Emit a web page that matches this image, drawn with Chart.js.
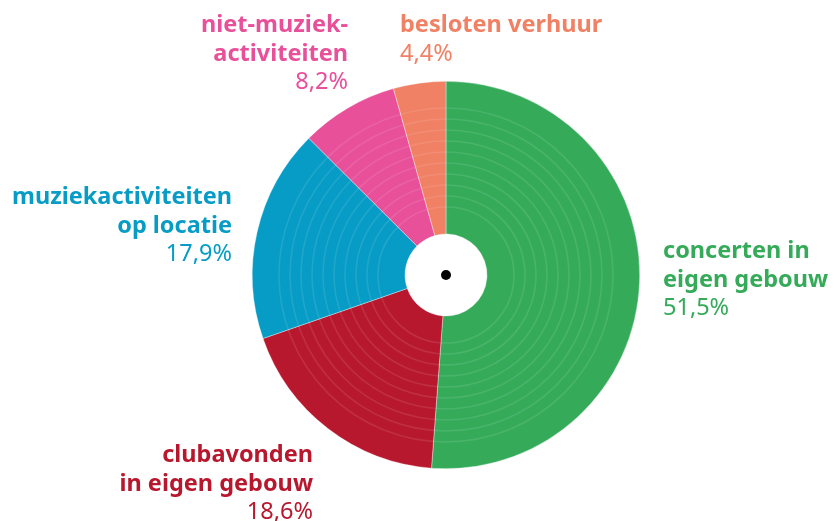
<!DOCTYPE html>
<html>
<head>
<meta charset="utf-8">
<script src="https://cdn.jsdelivr.net/npm/chart.js@4"></script>
<style>
html,body{margin:0;padding:0;background:#fff;}
#wrap{width:834px;height:521px;position:relative;}
</style>
</head>
<body>
<div id="wrap"><canvas id="c" width="834" height="521"></canvas></div>
<script>
const categories = [
  ["concerten in", "eigen gebouw"],
  ["clubavonden", "in eigen gebouw"],
  ["muziekactiviteiten", "op locatie"],
  ["niet-muziek-", "activiteiten"],
  ["besloten verhuur"]
];
const values = [51.5, 18.6, 17.9, 8.2, 4.4];
const colors = ["#35ab5a", "#b8182e", "#079cc5", "#e8509a", "#f08165"];

// label anchors relative to the centre of the record (style/layout only)
const labelLayout = [
  {dx: 217, dy: -17, align: "left"},
  {dx: -133, dy: 187, align: "right"},
  {dx: -214, dy: -71, align: "right"},
  {dx: -98, dy: -243, align: "right"},
  {dx: -46, dy: -243, align: "left"}
];

const fmt = v => v.toFixed(1).replace(".", ",") + "%";

const recordPlugin = {
  id: "record",
  afterDatasetsDraw(chart) {
    const arc = chart.getDatasetMeta(0).data[0];
    if (!arc) return;
    const {x, y, outerRadius} = arc.getProps(["x", "y", "outerRadius"], true);
    const ctx = chart.ctx;
    ctx.save();
    ctx.strokeStyle = "rgba(255,255,255,0.10)";
    ctx.lineWidth = 1.6;
    for (let r = 68; r <= outerRadius - 16; r += 11) {
      ctx.beginPath();
      ctx.arc(x, y, r, 0, Math.PI * 2);
      ctx.stroke();
    }
    ctx.fillStyle = "#000";
    ctx.beginPath();
    ctx.arc(x, y, 5, 0, Math.PI * 2);
    ctx.fill();
    ctx.restore();
  },
  afterDraw(chart) {
    const arc = chart.getDatasetMeta(0).data[0];
    if (!arc) return;
    const {x, y} = arc.getProps(["x", "y"], true);
    const ctx = chart.ctx;
    const lh = 28.5;
    ctx.save();
    ctx.textBaseline = "alphabetic";
    categories.forEach((lines, i) => {
      const L = labelLayout[i];
      const ax = x + L.dx, ay = y + L.dy;
      ctx.fillStyle = colors[i];
      ctx.textAlign = L.align;
      ctx.font = "bold 23.5px 'Noto Sans'";
      lines.forEach((t, j) => ctx.fillText(t, ax, ay + j * lh));
      ctx.font = "23.5px 'Noto Sans'";
      ctx.fillText(fmt(values[i]), ax, ay + lines.length * lh);
    });
    ctx.restore();
  }
};

new Chart(document.getElementById("c"), {
  type: "doughnut",
  data: {
    labels: categories.map(l => l.join(" ")),
    datasets: [{
      data: values,
      backgroundColor: colors,
      borderColor: "rgba(255,255,255,0.6)",
      borderWidth: 0.6
    }]
  },
  options: {
    responsive: false,
    animation: false,
    cutout: 41,
    layout: {padding: {left: 252, right: 194, top: 81, bottom: 52}},
    plugins: {legend: {display: false}, tooltip: {enabled: false}}
  },
  plugins: [recordPlugin]
});
</script>
</body>
</html>
